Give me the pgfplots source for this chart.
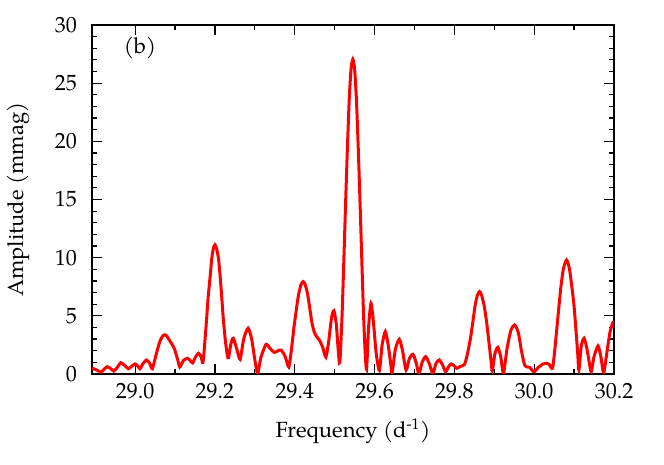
\documentclass[border=0pt]{standalone}
\usepackage{pgfplots}
\pgfplotsset{compat=1.18}
\usepackage{fontspec}
\setmainfont{texgyrepagella}[Extension=.otf, UprightFont=*-regular, BoldFont=*-bold, ItalicFont=*-italic]

\pgfplotstableread{
x y
28.892 0.50
28.903 0.35
28.914 0.15
28.922 0.40
28.930 0.62
28.939 0.45
28.947 0.25
28.956 0.60
28.964 0.97
28.973 0.75
28.983 0.45
28.991 0.65
29.000 0.86
29.006 0.70
29.012 0.45
29.020 0.90
29.028 1.20
29.036 0.95
29.043 0.45
29.052 1.60
29.062 2.80
29.070 3.30
29.077 3.35
29.086 2.90
29.098 2.20
29.106 1.30
29.112 0.60
29.121 1.15
29.131 1.35
29.138 1.15
29.144 0.95
29.152 1.50
29.159 1.78
29.165 1.50
29.170 1.00
29.175 2.90
29.179 4.70
29.183 6.60
29.188 8.40
29.192 9.90
29.196 10.80
29.200 11.10
29.204 10.80
29.209 9.90
29.213 8.40
29.217 6.60
29.221 4.70
29.226 2.90
29.231 1.60
29.234 1.40
29.240 2.60
29.246 3.07
29.255 2.10
29.263 1.26
29.272 3.00
29.283 3.93
29.292 3.00
29.300 1.20
29.307 0.05
29.315 1.40
29.328 2.55
29.338 2.20
29.349 1.85
29.358 2.00
29.366 2.06
29.376 1.50
29.385 0.60
29.392 2.20
29.398 4.00
29.405 5.80
29.410 6.90
29.416 7.70
29.421 7.94
29.426 7.70
29.432 6.90
29.437 5.80
29.443 4.40
29.449 3.60
29.455 3.20
29.462 2.90
29.470 2.30
29.478 1.45
29.485 2.80
29.492 4.80
29.498 5.44
29.504 4.30
29.509 2.00
29.513 1.00
29.5185 5.00
29.523 9.80
29.5275 14.80
29.532 19.50
29.5365 23.60
29.541 26.20
29.5455 27.05
29.550 26.20
29.5545 23.60
29.559 19.50
29.5635 14.80
29.568 9.80
29.5725 5.00
29.5765 1.80
29.580 0.40
29.585 4.00
29.591 6.08
29.597 4.50
29.604 1.80
29.612 0.30
29.619 2.50
29.627 3.64
29.634 2.50
29.640 1.00
29.644 0.10
29.652 2.10
29.662 2.98
29.670 2.00
29.679 0.34
29.687 1.30
29.696 1.69
29.704 1.00
29.711 0.00
29.719 1.00
29.728 1.49
29.737 0.90
29.746 0.05
29.754 0.90
29.762 1.20
29.770 0.80
29.778 0.20
29.785 0.60
29.792 0.86
29.799 0.70
29.806 0.49
29.815 0.65
29.825 0.80
29.832 1.60
29.840 3.00
29.846 4.40
29.852 5.90
29.858 6.80
29.863 7.08
29.868 6.80
29.875 5.80
29.881 4.40
29.887 2.60
29.892 1.10
29.895 0.28
29.902 1.80
29.909 2.29
29.916 1.50
29.923 0.06
29.932 2.20
29.942 3.80
29.951 4.21
29.960 3.60
29.968 2.00
29.976 0.77
29.983 0.60
29.989 0.57
29.995 0.30
30.001 0.20
30.010 0.55
30.022 0.86
30.030 0.92
30.038 0.80
30.046 0.49
30.052 2.20
30.057 4.00
30.062 5.80
30.067 7.50
30.073 9.00
30.081 9.80
30.088 9.10
30.094 7.60
30.100 5.80
30.105 3.60
30.109 1.80
30.112 0.34
30.118 2.40
30.125 3.07
30.132 2.20
30.138 1.00
30.143 0.20
30.150 1.50
30.160 2.41
30.167 1.50
30.174 0.10
30.182 1.80
30.190 3.60
30.197 4.40
30.200 4.50
}\spectrum

\begin{document}
\begin{tikzpicture}
\begin{axis}[
    scale only axis,
    width=261pt,
    height=174.5pt,
    xmin=28.892, xmax=30.2,
    ymin=0, ymax=30,
    xtick={29.0,29.2,...,30.21},
    minor x tick num=1,
    ytick={0,5,...,30},
    minor y tick num=4,
    tick align=inside,
    major tick length=5pt,
    minor tick length=2.5pt,
    axis line style={line width=1pt},
    every tick/.style={black, line width=0.6pt},
    tick label style={font=\fontsize{11}{13}\selectfont},
    label style={font=\fontsize{11}{13}\selectfont},
    /pgf/number format/assume math mode=true,
    xticklabel style={/pgf/number format/fixed, /pgf/number format/fixed zerofill, /pgf/number format/precision=1, yshift=-1pt},
    yticklabel style={xshift=-4pt},
    xlabel={Frequency (d\textsuperscript{-1})},
    ylabel={Amplitude (mmag)},
    xlabel style={yshift=-3pt},
    ylabel shift=6pt,
    clip=true,
]
\addplot[red, line width=1.5pt, smooth, tension=0.4] table[x=x, y=y] {\spectrum};
\node[anchor=center, font=\fontsize{11}{13}\selectfont] at (axis cs:29.012,28.0) {(b)};
\end{axis}
\path ([xshift=-46pt, yshift=-45.5pt]current axis.south west) rectangle ([xshift=25pt, yshift=12.5pt]current axis.north east);
\end{tikzpicture}
\end{document}
